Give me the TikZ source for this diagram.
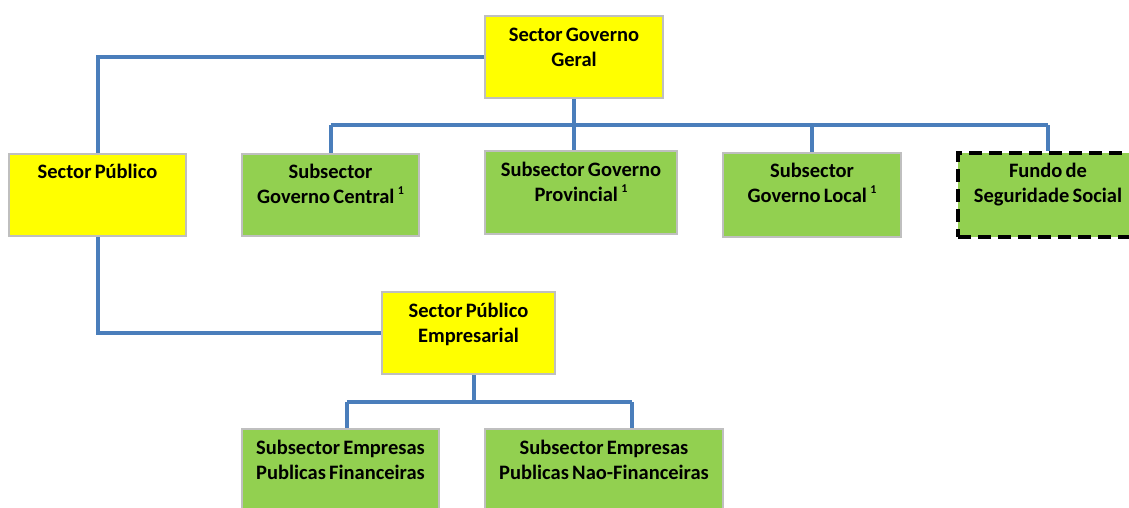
\documentclass[tikz,border=0pt]{standalone}
\usepackage{fontspec}
\setmainfont{Carlito}[WordSpace=0.7]
\usetikzlibrary{calc}
\definecolor{boxyellow}{HTML}{FFFF00}
\definecolor{boxgreen}{HTML}{92D050}
\definecolor{boxgray}{HTML}{BFBFBF}
\definecolor{connblue}{HTML}{4A7EBB}
\tikzset{
  box/.style={draw=boxgray, line width=2pt, inner sep=0pt},
  ybox/.style={box, fill=boxyellow},
  gbox/.style={box, fill=boxgreen},
  dbox/.style={fill=boxgreen, draw=black, line width=3.5pt, dash pattern=on 13pt off 7pt, inner sep=0pt},
  lbl/.style={anchor=base, inner sep=0pt, align=center, font=\fontsize{20.5}{25}\selectfont\bfseries},
  conn/.style={draw=connblue, line width=4pt},
}
\newcommand{\sone}{\,\raisebox{0.4em}{\fontsize{12}{12}\selectfont 1}}
\begin{document}
\begin{tikzpicture}[x=1pt,y=-1pt]
\useasboundingbox (0,0) rectangle (1129,507);
\clip (0,0) rectangle (1129,507);
% boxes
\node[ybox, minimum width=178pt, minimum height=82pt] (geral) at (574,57) {};
\node[ybox, minimum width=177pt, minimum height=82pt] (pub) at (97.5,195) {};
\node[gbox, minimum width=177pt, minimum height=82pt] (central) at (330.5,195) {};
\node[gbox, minimum width=192pt, minimum height=83pt] (prov) at (581,192.5) {};
\node[gbox, minimum width=178pt, minimum height=84pt] (local) at (812,195) {};
\node[dbox, minimum width=180pt, minimum height=84pt] (fundo) at (1048,195) {};
\node[ybox, minimum width=173pt, minimum height=82pt] (empr) at (468.5,333) {};
\node[gbox, minimum width=197pt, minimum height=82pt] (fin) at (340.5,470) {};
\node[gbox, minimum width=238pt, minimum height=82pt] (nfin) at (604,470) {};
% labels (base anchor = baseline of the last line)
\node[lbl] (tgeral) at ($(geral.north)+(0,51)$) {Sector Governo\\Geral};
\node[lbl] (tpub) at ($(pub.north)+(0,25)$) {Sector Público};
\node[lbl] (tcentral) at ($(central.north)+(0,50)$) {Subsector\\Governo Central\sone};
\node[lbl] (tprov) at ($(prov.north)+(0,51)$) {Subsector Governo\\Provincial\sone};
\node[lbl] (tlocal) at ($(local.north)+(0,50)$) {Subsector\\Governo Local\sone};
\node[lbl] (tfundo) at ($(fundo.north)+(0,51)$) {Fundo de\\Seguridade Social};
\node[lbl] (tempr) at ($(empr.north)+(0,51)$) {Sector Público\\Empresarial};
\node[lbl] (tfin) at ($(fin.north)+(0,51)$) {Subsector Empresas\\Publicas Financeiras};
\node[lbl] (tnfin) at ($(nfin.north)+(0,51)$) {Subsector Empresas\\Publicas Nao-Financeiras};
% connector coordinates
\coordinate (bus) at (0,125);
\coordinate (ebus) at (0,402);
\coordinate (edown) at (474,0);
\coordinate (finx) at (347,0);
\coordinate (nfinx) at (632,0);
% connectors
\draw[conn] (geral.west) -| (pub.north);
\draw[conn] (pub.south) |- (empr.west);
\draw[conn] (geral.south) -- (geral.south |- bus);
\draw[conn] (central.north |- bus) -- (fundo.north |- bus);
\draw[conn] (central.north |- bus) -- (central.north);
\draw[conn] (geral.south |- bus) -- (geral.south |- prov.north);
\draw[conn] (local.north |- bus) -- (local.north);
\draw[conn] (fundo.north |- bus) -- (fundo.north);
\draw[conn] (edown |- empr.south) -- (edown |- ebus);
\draw[conn] (finx |- ebus) -- (nfinx |- ebus);
\draw[conn] (finx |- ebus) -- (finx |- fin.north);
\draw[conn] (nfinx |- ebus) -- (nfinx |- nfin.north);
\end{tikzpicture}
\end{document}
